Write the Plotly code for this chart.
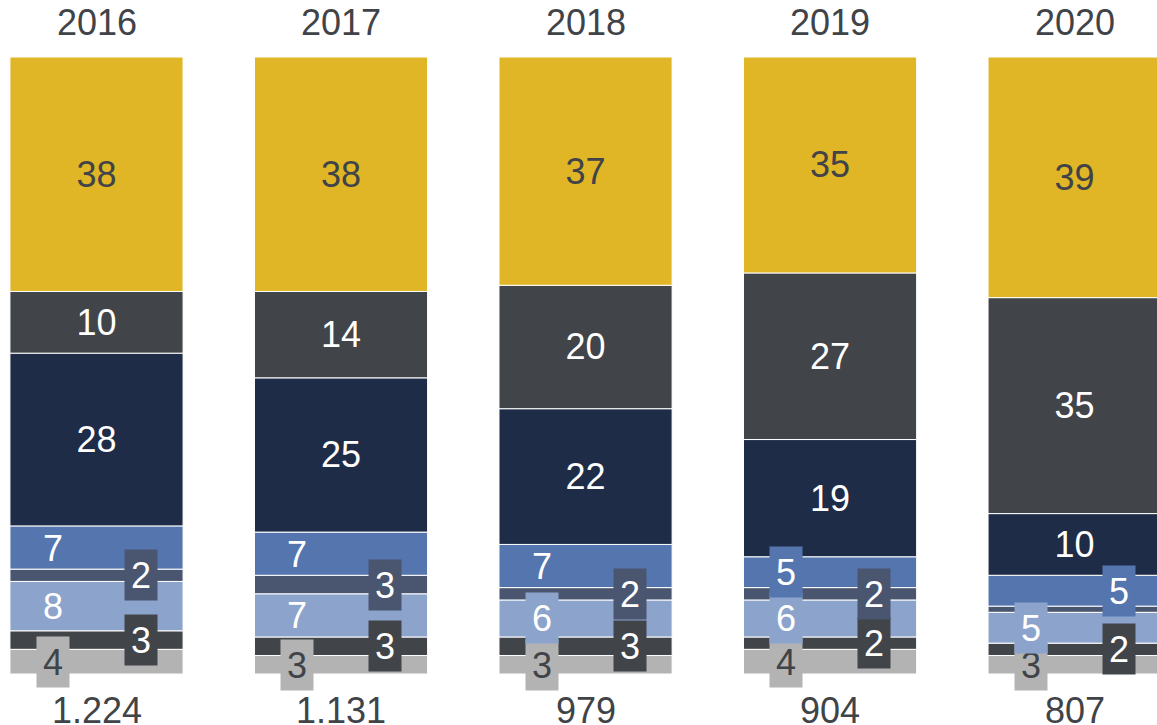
import plotly.graph_objects as go

years = ["2016", "2017", "2018", "2019", "2020"]
totals = ["1.224", "1.131", "979", "904", "807"]

# shares per segment, bottom to top
s_grey = [4, 3, 3, 4, 3]
s_dark_low = [3, 3, 3, 2, 2]
s_lightblue = [8, 7, 6, 6, 5]
s_slate = [2, 3, 2, 2, 1]
s_blue = [7, 7, 7, 5, 5]
s_navy = [28, 25, 22, 19, 10]
s_dark = [10, 14, 20, 27, 35]
s_gold = [38, 38, 37, 35, 39]

series = [
    ("grey", s_grey, "#B3B3B3", "#404347"),
    ("dark_low", s_dark_low, "#414449", "white"),
    ("lightblue", s_lightblue, "#8CA3CC", "white"),
    ("slate", s_slate, "#4A5570", "white"),
    ("blue", s_blue, "#5475AE", "white"),
    ("navy", s_navy, "#1F2C47", "white"),
    ("dark", s_dark, "#414449", "white"),
    ("gold", s_gold, "#E0B626", "#404347"),
]

# which small labels sit left (-) or right (+) of bar centre, None = no label
side = {
    "grey": [-1, -1, -1, -1, -1],
    "dark_low": [1, 1, 1, 1, 1],
    "lightblue": [-1, -1, -1, -1, -1],
    "slate": [1, 1, 1, 1, None],
    "blue": [-1, -1, -1, -1, 1],
}

FONT = "Liberation Sans, Arial, sans-serif"
x = list(range(len(years)))

fig = go.Figure()
base = [0] * len(years)
annos = []
for name, vals, col, tcol in series:
    big = name not in side
    fig.add_trace(go.Bar(
        x=x, y=vals, base=base[:], width=0.708,
        marker=dict(color=col, line=dict(color="white", width=1)),
        text=[str(v) for v in vals] if big else None,
        textposition="inside" if big else "none",
        insidetextanchor="middle", textangle=0,
        textfont=dict(size=36, color=tcol, family=FONT),
        showlegend=False, hoverinfo="skip",
    ))
    if not big:
        for i, v in enumerate(vals):
            sd = side[name][i]
            if sd is None:
                continue
            # thin segments get a box so the label stays readable
            boxed = v < 7
            annos.append(dict(
                x=i + sd * 0.18, y=base[i] + v / 2, xref="x", yref="y",
                text=str(v), showarrow=False,
                font=dict(size=36, color=tcol, family=FONT),
                bgcolor=col if boxed else "rgba(0,0,0,0)",
                width=32, height=50 if boxed else 36, borderpad=0,
            ))
    base = [b + v for b, v in zip(base, vals)]

for i in x:
    annos.append(dict(x=i, y=1, xref="x", yref="paper", yshift=35,
                      text=years[i], showarrow=False, yanchor="middle",
                      font=dict(size=36, color="#404347", family=FONT)))
    annos.append(dict(x=i, y=0, xref="x", yref="paper", yshift=-36,
                      text=totals[i], showarrow=False, yanchor="middle",
                      font=dict(size=36, color="#404347", family=FONT)))

fig.update_layout(
    width=1157, height=725,
    margin=dict(l=0, r=0, t=57, b=51),
    paper_bgcolor="white", plot_bgcolor="white",
    barmode="overlay",
    xaxis=dict(range=[-0.3947, 4.337], visible=False),
    yaxis=dict(range=[0, 100], visible=False),
    annotations=annos,
)

fig.write_html("out.html", config={"displayModeBar": False},
               post_script="document.body.style.margin='0px';")
